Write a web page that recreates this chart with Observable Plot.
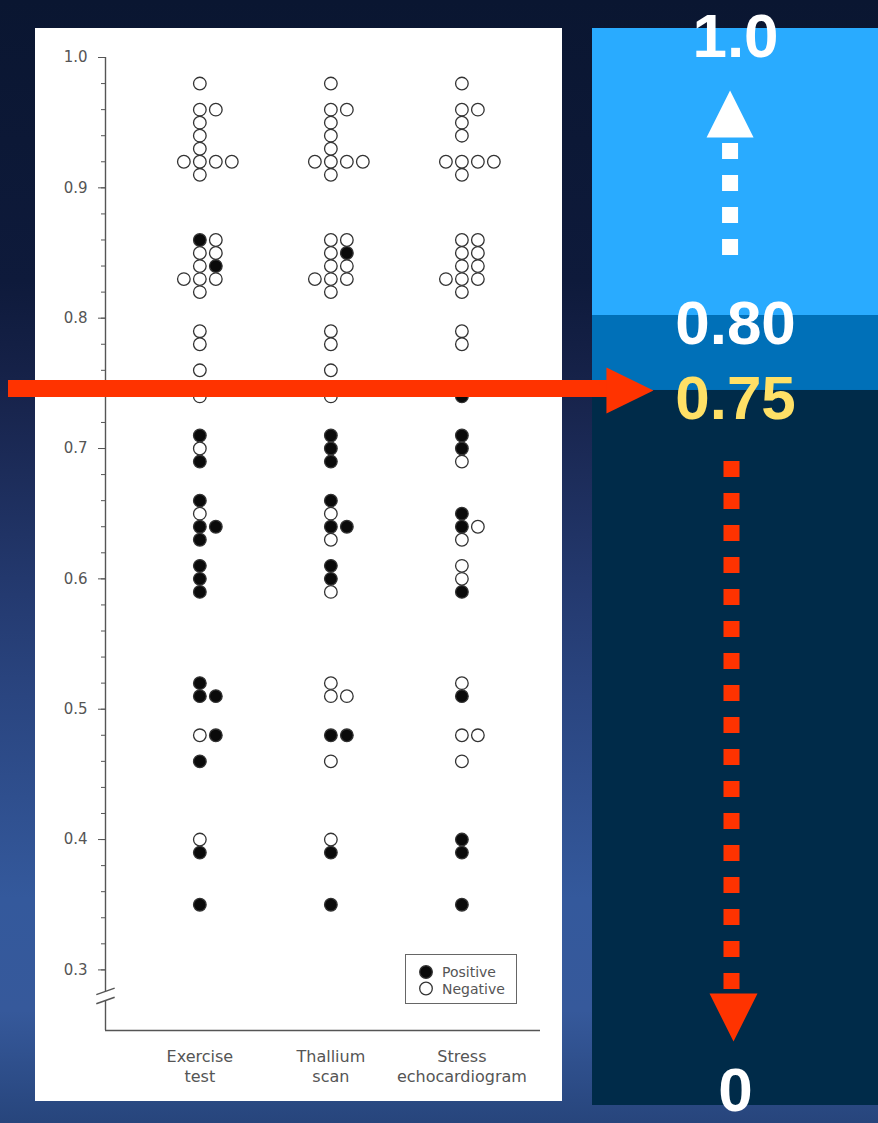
<!DOCTYPE html>
<html><head><meta charset="utf-8">
<script src="https://cdn.jsdelivr.net/npm/d3@7"></script>
<script src="https://cdn.jsdelivr.net/npm/@observablehq/plot@0.6"></script>
<style>
html,body{margin:0;padding:0;}
body{width:878px;height:1123px;position:relative;overflow:hidden;
 background:linear-gradient(180deg,#0a1631 0%,#0e1a3b 25%,#17234b 35%,#243a70 53%,#2a4580 62%,#34599c 80%,#36599b 90%,#27457c 100%);}
#panel{position:absolute;left:35px;top:28px;width:527px;height:1073px;background:#fff;}
#chart{position:absolute;left:35px;top:28px;}
#legend{position:absolute;left:405px;top:954px;width:110px;height:48px;border:1px solid #666;background:#fff;}
#overlay{position:absolute;left:0;top:0;}
svg{overflow:visible;}
</style></head><body>
<div id="panel"></div>
<div id="chart"></div>
<div id="legend"></div>
<div id="overlay"></div>
<script>
// ---------- data ----------
const tests = ["Exercise test", "Thallium scan", "Stress echocardiogram"];
const testLabels = ["Exercise\ntest", "Thallium\nscan", "Stress\nechocardiogram"];
// each row: [post-test probability, results in stacking order (P = positive, N = negative)]
const exerciseRows = [
  [0.98,"N"],[0.96,"NN"],[0.95,"N"],[0.94,"N"],[0.93,"N"],[0.92,"NNNN"],[0.91,"N"],
  [0.86,"PN"],[0.85,"NN"],[0.84,"NP"],[0.83,"NNN"],[0.82,"N"],
  [0.79,"N"],[0.78,"N"],[0.76,"N"],[0.74,"N"],
  [0.71,"P"],[0.70,"N"],[0.69,"P"],
  [0.66,"P"],[0.65,"N"],[0.64,"PP"],[0.63,"P"],
  [0.61,"P"],[0.60,"P"],[0.59,"P"],
  [0.52,"P"],[0.51,"PP"],[0.48,"NP"],[0.46,"P"],
  [0.40,"N"],[0.39,"P"],[0.35,"P"]
];
const thalliumRows = [
  [0.98,"N"],[0.96,"NN"],[0.95,"N"],[0.94,"N"],[0.93,"N"],[0.92,"NNNN"],[0.91,"N"],
  [0.86,"NN"],[0.85,"NP"],[0.84,"NN"],[0.83,"NNN"],[0.82,"N"],
  [0.79,"N"],[0.78,"N"],[0.76,"N"],[0.74,"N"],
  [0.71,"P"],[0.70,"P"],[0.69,"P"],
  [0.66,"P"],[0.65,"N"],[0.64,"PP"],[0.63,"N"],
  [0.61,"P"],[0.60,"P"],[0.59,"N"],
  [0.52,"N"],[0.51,"NN"],[0.48,"PP"],[0.46,"N"],
  [0.40,"N"],[0.39,"P"],[0.35,"P"]
];
const stressRows = [
  [0.98,"N"],[0.96,"NN"],[0.95,"N"],[0.94,"N"],[0.92,"NNNN"],[0.91,"N"],
  [0.86,"NN"],[0.85,"NN"],[0.84,"NN"],[0.83,"NNN"],[0.82,"N"],
  [0.79,"N"],[0.78,"N"],[0.74,"P"],
  [0.71,"P"],[0.70,"P"],[0.69,"N"],
  [0.65,"P"],[0.64,"PN"],[0.63,"N"],
  [0.61,"N"],[0.60,"N"],[0.59,"P"],
  [0.52,"N"],[0.51,"P"],[0.48,"NN"],[0.46,"N"],
  [0.40,"P"],[0.39,"P"],[0.35,"P"]
];
const resultNames = {P: "Positive", N: "Negative"};
const legendItems = ["Positive", "Negative"];
const majorTicks = [0.3, 0.4, 0.5, 0.6, 0.7, 0.8, 0.9, 1.0];
const minorTicks = d3.range(15, 51).map(i => i / 50);
// right panel thresholds
const zoneBreaks = [0, 0.75, 0.80, 1.0];
const zoneLabels = ["0", "0.75", "0.80", "1.0"];
const targetValue = 0.75;
// annotation arrows on the threshold panel (value extents)
const upArrow = {from: 0.8418, to: 0.92, head: 0.9404};
const downArrow = {from: 0.6755, to: 0.1217, head: 0.0923};

// ---------- styles / layout ----------
const axisColor = "#555";
const slotOrder = [0, 1, -1, 2];
const slotWidth = 0.122;
const xStart = -0.72, xEnd = 2.6, yFloor = 0.2535;
const breakUpper = 0.2835, breakLower = 0.2765;
const dotColors = ["#0a0a0a", "#ffffff"];
const zoneColors = ["#002b49", "#0070b8", "#29abff"];
const red = "#ff3300", yellow = "#ffe066";
// panel: fraction of height (from bottom) at which each threshold sits
const zoneFractions = [0, 0.6639, 0.7335, 1];
const panelPos = d3.scaleLinear().domain(zoneBreaks).range(zoneFractions);

const dots = [exerciseRows, thalliumRows, stressRows].flatMap((rows, t) =>
  rows.flatMap(([p, codes]) => [...codes].map((c, k) => ({test: t, slot: slotOrder[k], p, result: resultNames[c]}))));

const left = Plot.plot({
  width: 527, height: 1073,
  marginLeft: 70, marginRight: 22, marginTop: 29, marginBottom: 71,
  x: {domain: [xStart, xEnd], axis: null},
  y: {domain: [yFloor, 1]},
  color: {domain: legendItems, range: dotColors},
  style: {background: "transparent", fontFamily: "'DejaVu Sans', sans-serif", color: axisColor, overflow: "visible"},
  marks: [
    Plot.ruleX([xStart], {y1: breakUpper, y2: 1, stroke: axisColor, strokeWidth: 1.4}),
    Plot.ruleX([xStart], {y1: yFloor, y2: breakLower, stroke: axisColor, strokeWidth: 1.4}),
    Plot.ruleY([yFloor], {x1: xStart, x2: xEnd, stroke: axisColor, strokeWidth: 1.4}),
    Plot.link([breakUpper, breakLower], {x1: xStart - 0.07, x2: xStart + 0.07, y1: d => d - 0.0025, y2: d => d + 0.0025, stroke: axisColor, strokeWidth: 1.4}),
    Plot.axisY(minorTicks, {anchor: "left", tickSize: 4, tickFormat: () => "", color: axisColor, label: null}),
    Plot.axisY(majorTicks, {anchor: "left", tickSize: 7, tickPadding: 11, tickFormat: d3.format(".1f"), fontSize: 15, color: axisColor, label: null}),
    Plot.dot(dots, {x: d => d.test + d.slot * slotWidth, y: "p", r: 6.3, fill: "result", stroke: "#333", strokeWidth: 1.3}),
    Plot.text(testLabels, {x: (d, i) => i, y: yFloor, text: d => d, lineAnchor: "top", dy: 17, fontSize: 16, lineHeight: 1.25, fill: axisColor})
  ]
});
document.getElementById("chart").appendChild(left);

// legend
const lg = d3.select("#legend").append("svg").attr("width", 110).attr("height", 48)
  .style("font-family", "'DejaVu Sans', sans-serif").style("font-size", "14px");
legendItems.forEach((name, i) => {
  lg.append("circle").attr("cx", 20).attr("cy", 17 + 16.5 * i).attr("r", 6.3)
    .attr("fill", dotColors[i]).attr("stroke", "#333").attr("stroke-width", 1.3);
  lg.append("text").attr("x", 36).attr("y", 21.5 + 17 * i).attr("fill", axisColor).text(name);
});

// ---------- right panel (threshold scale) ----------
const tri = (w, h, dir) => ({draw(ctx) {
  if (dir === "up") { ctx.moveTo(0, -h / 2); ctx.lineTo(w / 2, h / 2); ctx.lineTo(-w / 2, h / 2); }
  else if (dir === "down") { ctx.moveTo(0, h / 2); ctx.lineTo(w / 2, -h / 2); ctx.lineTo(-w / 2, -h / 2); }
  else { ctx.moveTo(h / 2, 0); ctx.lineTo(-h / 2, -w / 2); ctx.lineTo(-h / 2, w / 2); }
  ctx.closePath();
}});
const zones = zoneBreaks.slice(1).map((hi, i) => ({lo: zoneBreaks[i], hi, i}));
const labelData = zoneBreaks.map((v, i) => ({v, label: zoneLabels[i]}));
const bigFont = {fontSize: 62, fontWeight: "bold", fontFamily: "'Liberation Sans', Arial, sans-serif", lineAnchor: "middle"};
const shaftX = 0.481, downX = 0.486;

const right = Plot.plot({
  width: 878, height: 1123,
  marginLeft: 592, marginRight: 0, marginTop: 28, marginBottom: 18,
  x: {domain: [0, 1], axis: null},
  y: {domain: [0, 1], transform: v => panelPos(v), axis: null},
  color: {type: "identity"},
  style: {background: "transparent", overflow: "visible"},
  marks: [
    Plot.rect(zones, {y1: "lo", y2: "hi", fill: d => zoneColors[d.i]}),
    // white dotted arrow up towards 1.0
    Plot.ruleX([upArrow], {x: () => shaftX, y1: "from", y2: "to", stroke: "white", strokeWidth: 16, strokeDasharray: "16,16"}),
    Plot.dot([upArrow], {x: () => shaftX, y: "head", symbol: tri(47, 47, "up"), fill: "white"}),
    // red dotted arrow down towards 0
    Plot.ruleX([downArrow], {x: () => downX, y1: "from", y2: "to", stroke: red, strokeWidth: 16, strokeDasharray: "16,16"}),
    Plot.dot([downArrow], {x: () => downX + 0.007, y: "head", symbol: tri(48, 48, "down"), fill: red}),
    // labels
    Plot.text(labelData.filter(d => d.v > 0), {y: "v", text: "label", fill: d => d.v === targetValue ? yellow : "white", dy: 9, ...bigFont}),
    Plot.text(labelData.filter(d => d.v === 0), {y: "v", text: "label", fill: "white", dy: -14, ...bigFont}),
    // red horizontal arrow pointing at 0.75
    Plot.ruleY([targetValue], {y: d => d, x1: () => -2.042, x2: () => 0.063, stroke: red, strokeWidth: 17, dy: -2}),
    Plot.dot([targetValue], {y: d => d, x: () => 0.131, symbol: tri(46, 47, "right"), fill: red})
  ]
});
document.getElementById("overlay").appendChild(right);
</script></body></html>
